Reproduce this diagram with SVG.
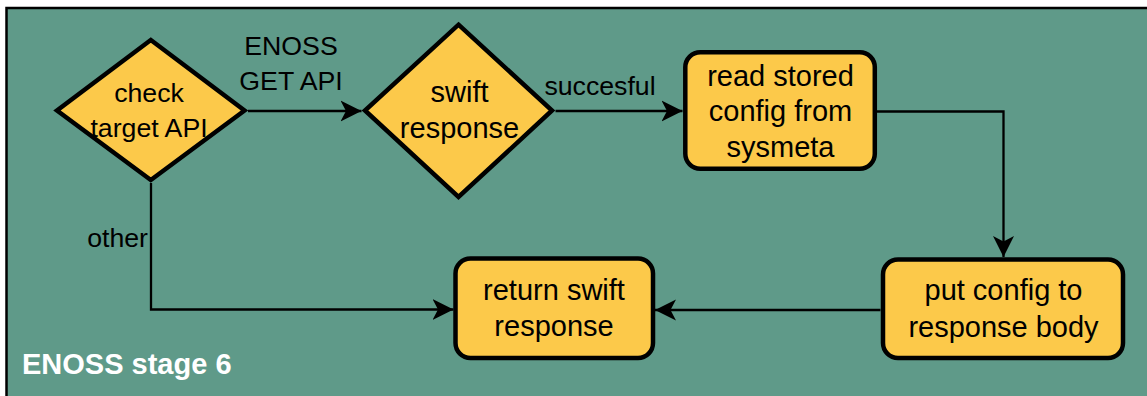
<svg xmlns="http://www.w3.org/2000/svg" width="1147" height="396" viewBox="0 0 1147 396">
  <style>
    .bg { fill: #ffffff; }
    .frame { fill: #5F9A89; stroke: #000000; stroke-width: 2.5; }
    .node { fill: #FCC94A; stroke: #000000; stroke-width: 4.5; stroke-linejoin: miter; }
    .edge { fill: none; stroke: #000000; stroke-width: 2.3; }
    text { font-family: "Liberation Sans", Arial, Helvetica, sans-serif; fill: #000000; }
    .t12 { font-size: 29px; text-anchor: middle; }
    .t11 { font-size: 26.7px; text-anchor: middle; }
    .lbl { font-size: 26.7px; }
    .title { font-size: 29px; font-weight: bold; fill: #ffffff; }
  </style>
  <defs>
    <marker id="arrow" markerUnits="userSpaceOnUse" markerWidth="22" markerHeight="22" viewBox="0 0 22 22" refX="21" refY="11" orient="auto">
      <path d="M0,0.5 L21,11 L0,21.5 L5.5,11 Z" fill="#000000"/>
    </marker>
  </defs>

  <rect class="bg" x="0" y="0" width="1147" height="396"/>
  <g id="stage-frame">
    <rect class="frame" x="6.5" y="8" width="1160" height="410"/>
    <text class="title" x="22" y="374">ENOSS stage 6</text>
  </g>

  <g id="connectors">
    <path class="edge" d="M248,111 L361.5,111" marker-end="url(#arrow)"/>
    <text class="lbl" text-anchor="middle" x="291" y="55">ENOSS</text>
    <text class="lbl" text-anchor="middle" x="291" y="90">GET API</text>

    <path class="edge" d="M555.5,111 L682.5,111" marker-end="url(#arrow)"/>
    <text class="lbl" text-anchor="middle" x="600" y="95">succesful</text>

    <path class="edge" d="M877,111.5 L1003.5,111.5 L1003.5,257" marker-end="url(#arrow)"/>

    <path class="edge" d="M880.5,310 L655,310" marker-end="url(#arrow)"/>

    <path class="edge" d="M151,183 L151,309.5 L453.5,309.5" marker-end="url(#arrow)"/>
    <text class="lbl" text-anchor="end" x="148" y="247">other</text>
  </g>

  <g id="check-target-api">
    <polygon class="node" points="150.8,40 244.5,110.5 150.8,180 57,110.5"/>
    <text class="t11" x="149" y="101.7">check</text>
    <text class="t11" x="149" y="136.7">target API</text>
  </g>

  <g id="swift-response">
    <polygon class="node" points="458.5,24.7 552,110.5 458.5,197 365,110.5"/>
    <text class="t12" x="459.5" y="101.7">swift</text>
    <text class="t12" x="459.5" y="138">response</text>
  </g>

  <g id="read-stored-config">
    <rect class="node" x="685.3" y="52.3" width="189.5" height="116.5" rx="15" ry="15"/>
    <text class="t12" x="780.5" y="85.7">read stored</text>
    <text class="t12" x="780.5" y="121.3">config from</text>
    <text class="t12" x="780.5" y="157">sysmeta</text>
  </g>

  <g id="put-config">
    <rect class="node" x="883" y="259.5" width="240" height="98.5" rx="15" ry="15"/>
    <text class="t12" x="1003.5" y="299.5">put config to</text>
    <text class="t12" x="1003.5" y="336.5">response body</text>
  </g>

  <g id="return-swift-response">
    <rect class="node" x="455.5" y="258.5" width="197.5" height="99.5" rx="15" ry="15"/>
    <text class="t12" x="554" y="300">return swift</text>
    <text class="t12" x="554" y="336">response</text>
  </g>
</svg>
